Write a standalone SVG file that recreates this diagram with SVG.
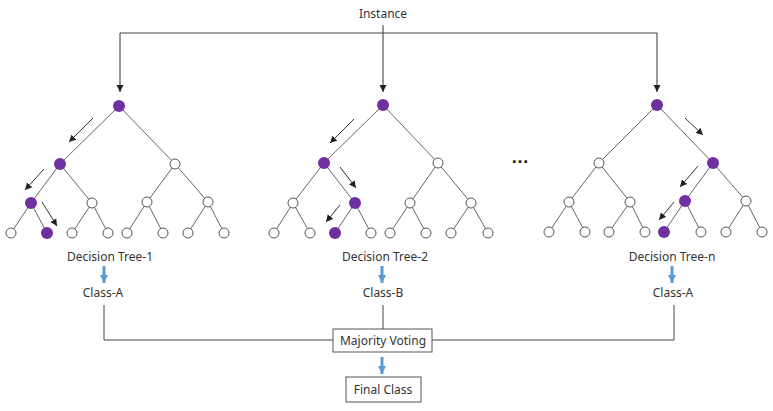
<svg xmlns="http://www.w3.org/2000/svg" width="773" height="411" viewBox="0 0 773 411">
<defs>
<style>
.t{font-family:"Noto Sans","Liberation Sans",sans-serif;font-size:12px;fill:#333;text-anchor:middle}
.e{stroke:#666;stroke-width:1;fill:none}
.c{stroke:#444;stroke-width:1;fill:none}
.w{fill:#fff;stroke:#555;stroke-width:1}
.p{fill:#7030A0;stroke:none}
.a{stroke:#333;stroke-width:1;fill:none;marker-end:url(#ah)}
.b{fill:#fff;stroke:#555;stroke-width:1}
.bl{stroke:#5B9BD5;stroke-width:3;marker-end:url(#bh)}
</style>
<marker id="ah" markerWidth="8" markerHeight="8" refX="7" refY="4" orient="auto" markerUnits="userSpaceOnUse"><path d="M0,0.5 L7,4 L0,7.5 Z" fill="#222"/></marker>
<marker id="bh" markerWidth="9" markerHeight="8" refX="8" refY="4" orient="auto" markerUnits="userSpaceOnUse"><path d="M0,0 L8,4 L0,8 Z" fill="#5B9BD5"/></marker>
</defs>
<rect width="773" height="411" fill="#fff"/>

<g id="connectors">
<line class="c" x1="120" y1="33" x2="657" y2="33"/>
<line class="c a" x1="383" y1="25" x2="383" y2="92"/>
<line class="c a" x1="120" y1="33" x2="120" y2="92"/>
<line class="c a" x1="657" y1="33" x2="657" y2="92"/>
<polyline class="c" points="104,305 104,340 333,340"/>
<line class="c" x1="383" y1="305" x2="383" y2="329"/>
<polyline class="c" points="432,340 674,340 674,305"/>
<line class="bl" x1="104" y1="266" x2="104" y2="283"/>
<line class="bl" x1="382" y1="266" x2="382" y2="283"/>
<line class="bl" x1="672" y1="266" x2="672" y2="283"/>
<line class="bl" x1="382" y1="357" x2="382" y2="374"/>
</g>

<g id="instance"><text class="t" x="383" y="18">Instance</text></g>

<g id="tree1">
<g class="e">
<line x1="119" y1="106" x2="60" y2="164"/><line x1="119" y1="106" x2="175" y2="164"/>
<line x1="60" y1="164" x2="31" y2="203"/><line x1="60" y1="164" x2="92" y2="203"/>
<line x1="175" y1="164" x2="147" y2="202"/><line x1="175" y1="164" x2="208" y2="202"/>
<line x1="31" y1="203" x2="11" y2="233"/><line x1="31" y1="203" x2="47" y2="233"/>
<line x1="92" y1="203" x2="72" y2="233"/><line x1="92" y1="203" x2="108" y2="233"/>
<line x1="147" y1="202" x2="127" y2="233"/><line x1="147" y1="202" x2="163" y2="233"/>
<line x1="208" y1="202" x2="188" y2="233"/><line x1="208" y1="202" x2="224" y2="233"/>
</g>
<circle class="p" cx="119" cy="106" r="6"/><circle class="p" cx="60" cy="164" r="6"/><circle class="w" cx="175" cy="164" r="5"/>
<circle class="p" cx="31" cy="203" r="6"/><circle class="w" cx="92" cy="203" r="5"/><circle class="w" cx="147" cy="202" r="5"/><circle class="w" cx="208" cy="202" r="5"/>
<circle class="w" cx="11" cy="233" r="5"/><circle class="p" cx="47" cy="233" r="6"/><circle class="w" cx="72" cy="233" r="5"/><circle class="w" cx="108" cy="233" r="5"/>
<circle class="w" cx="127" cy="233" r="5"/><circle class="w" cx="163" cy="233" r="5"/><circle class="w" cx="188" cy="233" r="5"/><circle class="w" cx="224" cy="233" r="5"/>
<line class="a" x1="93" y1="118" x2="69" y2="142"/>
<line class="a" x1="44" y1="169" x2="25" y2="190"/>
<line class="a" x1="42" y1="202" x2="57" y2="226"/>
<text class="t" x="110" y="261">Decision Tree-1</text>
<text class="t" x="103" y="297">Class-A</text>
</g>

<g id="tree2">
<g class="e">
<line x1="383" y1="105" x2="324" y2="163"/><line x1="383" y1="105" x2="438" y2="163"/>
<line x1="324" y1="163" x2="293" y2="203"/><line x1="324" y1="163" x2="355" y2="203"/>
<line x1="438" y1="163" x2="410" y2="203"/><line x1="438" y1="163" x2="471" y2="203"/>
<line x1="293" y1="203" x2="274" y2="233"/><line x1="293" y1="203" x2="310" y2="233"/>
<line x1="355" y1="203" x2="335" y2="233"/><line x1="355" y1="203" x2="371" y2="233"/>
<line x1="410" y1="203" x2="390" y2="233"/><line x1="410" y1="203" x2="426" y2="233"/>
<line x1="471" y1="203" x2="451" y2="233"/><line x1="471" y1="203" x2="488" y2="233"/>
</g>
<circle class="p" cx="383" cy="105" r="6"/><circle class="p" cx="324" cy="163" r="6"/><circle class="w" cx="438" cy="163" r="5"/>
<circle class="w" cx="293" cy="203" r="5"/><circle class="p" cx="355" cy="203" r="6"/><circle class="w" cx="410" cy="203" r="5"/><circle class="w" cx="471" cy="203" r="5"/>
<circle class="w" cx="274" cy="233" r="5"/><circle class="w" cx="310" cy="233" r="5"/><circle class="p" cx="335" cy="233" r="6"/><circle class="w" cx="371" cy="233" r="5"/>
<circle class="w" cx="390" cy="233" r="5"/><circle class="w" cx="426" cy="233" r="5"/><circle class="w" cx="451" cy="233" r="5"/><circle class="w" cx="488" cy="233" r="5"/>
<line class="a" x1="354" y1="119" x2="330" y2="143"/>
<line class="a" x1="340" y1="167" x2="356" y2="188"/>
<line class="a" x1="340" y1="205" x2="326" y2="222"/>
<text class="t" x="385" y="261">Decision Tree-2</text>
<text class="t" x="383" y="297">Class-B</text>
</g>

<g id="dots"><text x="520" y="163" style="font-family:'Liberation Sans',sans-serif;font-size:18px;font-weight:bold;fill:#222;text-anchor:middle">…</text></g>

<g id="treen">
<g class="e">
<line x1="657" y1="105" x2="599" y2="163"/><line x1="657" y1="105" x2="713" y2="163"/>
<line x1="599" y1="163" x2="569" y2="202"/><line x1="599" y1="163" x2="630" y2="202"/>
<line x1="713" y1="163" x2="685" y2="201"/><line x1="713" y1="163" x2="746" y2="201"/>
<line x1="569" y1="202" x2="549" y2="232"/><line x1="569" y1="202" x2="585" y2="232"/>
<line x1="630" y1="202" x2="609" y2="232"/><line x1="630" y1="202" x2="645" y2="232"/>
<line x1="685" y1="201" x2="664" y2="232"/><line x1="685" y1="201" x2="701" y2="232"/>
<line x1="746" y1="201" x2="726" y2="232"/><line x1="746" y1="201" x2="762" y2="232"/>
</g>
<circle class="p" cx="657" cy="105" r="6"/><circle class="w" cx="599" cy="163" r="5"/><circle class="p" cx="713" cy="163" r="6"/>
<circle class="w" cx="569" cy="202" r="5"/><circle class="w" cx="630" cy="202" r="5"/><circle class="p" cx="685" cy="201" r="6"/><circle class="w" cx="746" cy="201" r="5"/>
<circle class="w" cx="549" cy="232" r="5"/><circle class="w" cx="585" cy="232" r="5"/><circle class="w" cx="609" cy="232" r="5"/><circle class="w" cx="645" cy="232" r="5"/>
<circle class="p" cx="664" cy="232" r="6"/><circle class="w" cx="701" cy="232" r="5"/><circle class="w" cx="726" cy="232" r="5"/><circle class="w" cx="762" cy="232" r="5"/>
<line class="a" x1="685" y1="118" x2="703" y2="135"/>
<line class="a" x1="698" y1="166" x2="680" y2="187"/>
<line class="a" x1="674" y1="202" x2="659" y2="220"/>
<text class="t" x="672" y="261">Decision Tree-n</text>
<text class="t" x="673" y="297">Class-A</text>
</g>

<g id="voting">
<rect class="b" x="333" y="329" width="99" height="23"/>
<text class="t" x="383" y="345">Majority Voting</text>
</g>
<g id="final">
<rect class="b" x="346" y="377" width="75" height="25"/>
<text class="t" x="383" y="394">Final Class</text>
</g>
</svg>
